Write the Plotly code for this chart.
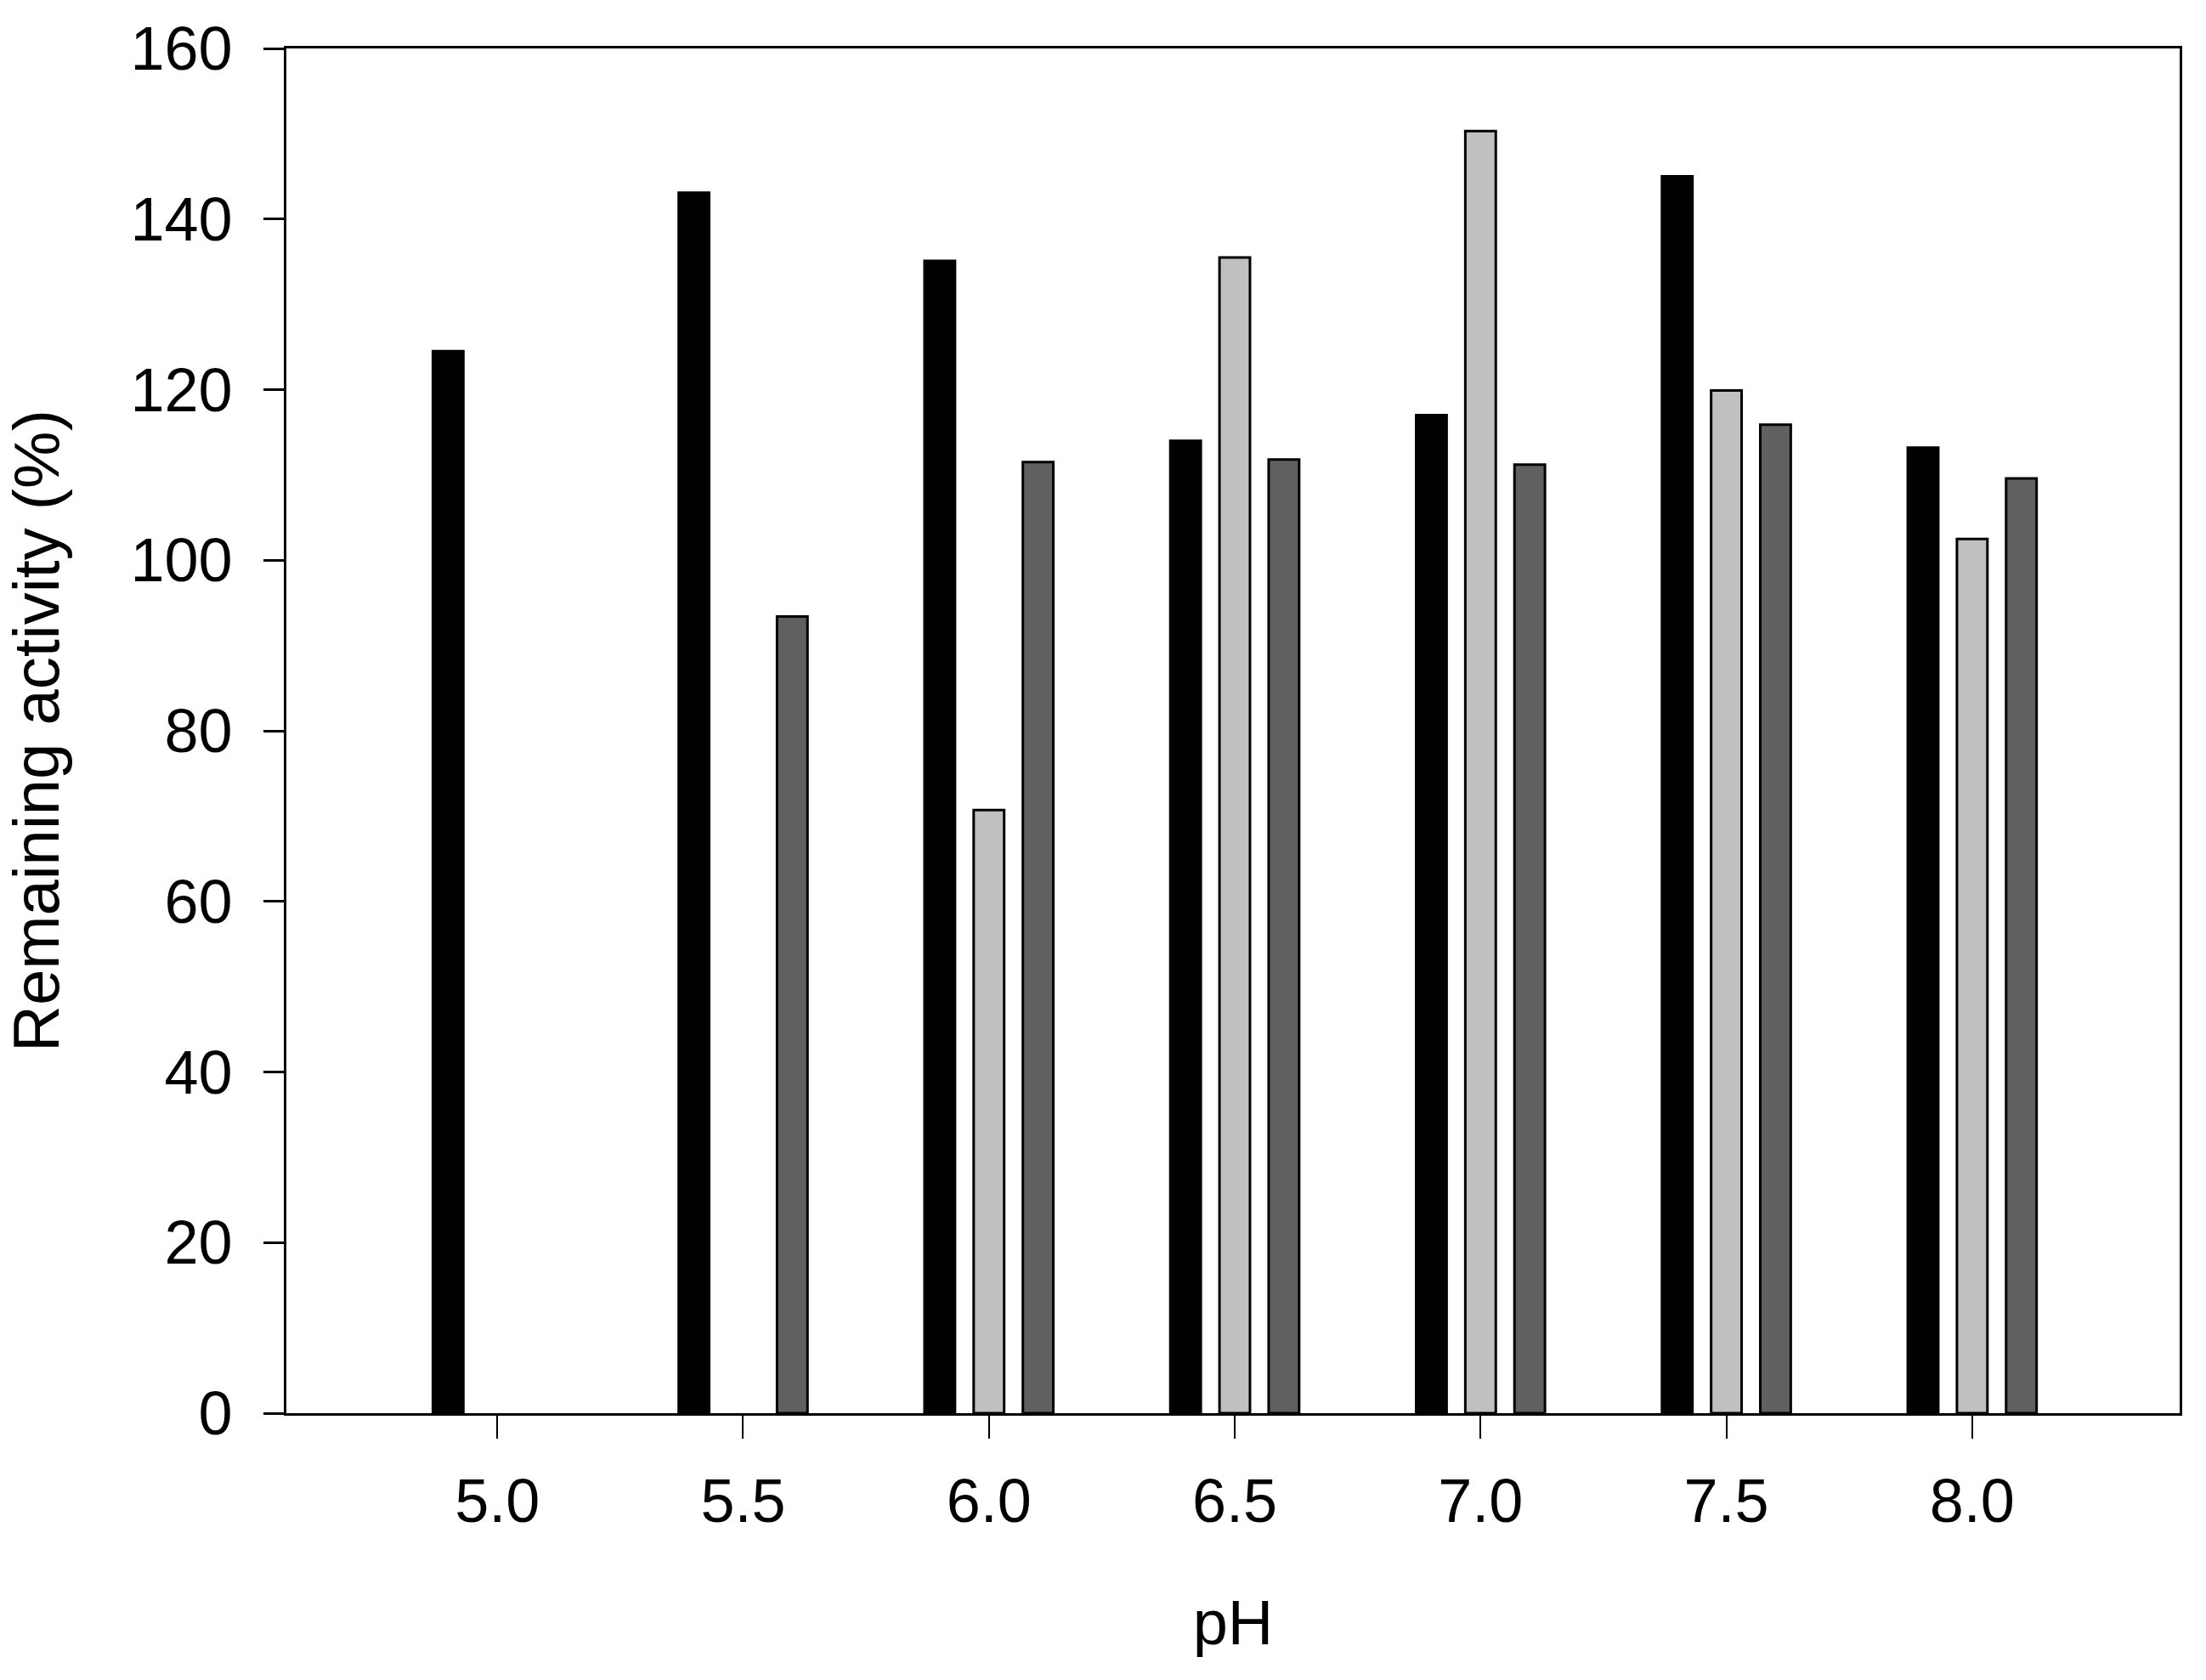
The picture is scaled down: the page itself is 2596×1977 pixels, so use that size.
import plotly.graph_objects as go

# pH values and remaining activity (%) for the three series
ph = [5.0, 5.5, 6.0, 6.5, 7.0, 7.5, 8.0]
tick_text = ["5.0", "5.5", "6.0", "6.5", "7.0", "7.5", "8.0"]
black_vals = [124.5, 143.1, 135.1, 114.0, 117.0, 145.0, 113.2]
light_vals = [None, None, 70.7, 135.5, 150.3, 119.9, 102.5]
dark_vals = [None, 93.4, 111.5, 111.8, 111.2, 115.9, 109.6]

bar_w = 0.062
font_family = "Arial, Liberation Sans, sans-serif"

fig = go.Figure()

series = [
    (black_vals, "#000000", -0.1),
    (light_vals, "#c0c0c0", 0.0),
    (dark_vals, "#606060", 0.1),
]
for vals, color, shift in series:
    fig.add_trace(go.Bar(
        x=ph,
        y=vals,
        width=bar_w,
        offset=shift - bar_w / 2,
        marker=dict(color=color, line=dict(color="black", width=3)),
        showlegend=False,
    ))

fig.update_layout(
    width=2596,
    height=1977,
    margin=dict(l=337, r=31, t=57, b=314),
    barmode="overlay",
    plot_bgcolor="white",
    paper_bgcolor="white",
    font=dict(family=font_family, size=72, color="black"),
)

fig.update_xaxes(
    range=[4.571, 8.422],
    tickvals=ph,
    ticktext=tick_text,
    ticks="outside",
    ticklen=27,
    tickwidth=2,
    tickcolor="black",
    showline=True,
    linewidth=3,
    linecolor="black",
    mirror=True,
    showgrid=False,
    zeroline=False,
    ticklabelstandoff=12,
    title=dict(text="pH", font=dict(size=74), standoff=78),
)

fig.update_yaxes(
    range=[0, 160],
    tick0=0,
    dtick=20,
    ticks="outside",
    ticklen=24,
    tickwidth=3,
    tickcolor="black",
    showline=True,
    linewidth=3,
    linecolor="black",
    mirror=True,
    showgrid=False,
    zeroline=False,
    ticklabelstandoff=22,
    title=dict(text="Remaining activity (%)", font=dict(size=76), standoff=66),
)

fig.write_html(
    "out.html",
    config={"displayModeBar": False},
    post_script="document.body.style.margin='0';document.body.style.overflow='hidden';",
)
